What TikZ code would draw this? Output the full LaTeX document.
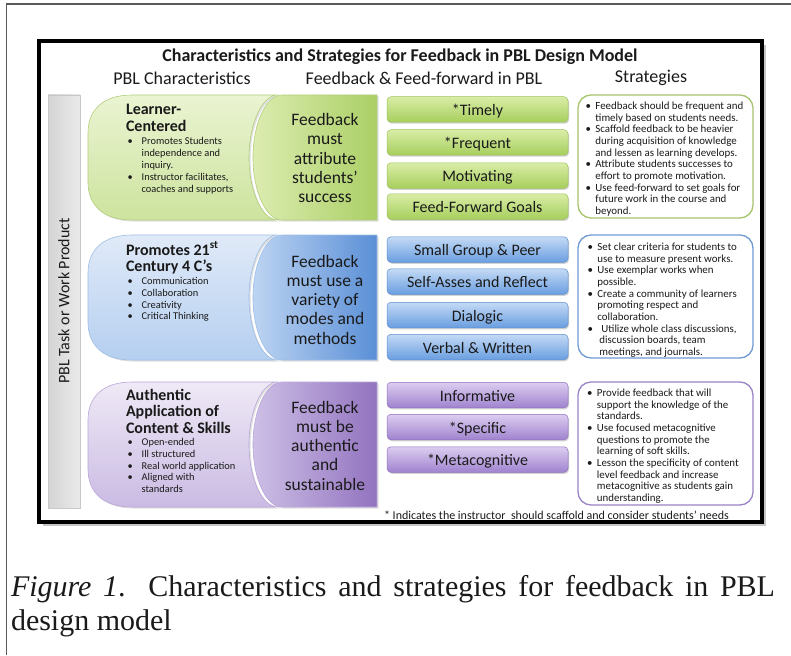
\documentclass[tikz,border=0pt]{standalone}
\usepackage{fontspec}
\setmainfont{Carlito}
\newfontfamily\capfont{Liberation Serif}
\usetikzlibrary{shadows}
\newcommand{\fsz}[2]{\fontsize{#1}{#2}\selectfont}
% green row
\definecolor{gLa}{HTML}{EAF4D2}\definecolor{gLb}{HTML}{CDE39E}\definecolor{gE}{HTML}{B2CE7C}
\definecolor{gCa}{HTML}{DCECB0}\definecolor{gCb}{HTML}{ABCF66}
\definecolor{gBa}{HTML}{DAEDA8}\definecolor{gBb}{HTML}{A6CE5C}\definecolor{gBE}{HTML}{9CC255}
\definecolor{gS}{HTML}{A6C46C}
% blue row
\definecolor{bLa}{HTML}{E0EAF8}\definecolor{bLb}{HTML}{B5CFF0}\definecolor{bE}{HTML}{9DBDE6}
\definecolor{bCa}{HTML}{BDD4F2}\definecolor{bCb}{HTML}{5A8FD6}
\definecolor{bBa}{HTML}{C4DAF5}\definecolor{bBb}{HTML}{6A9EE0}\definecolor{bBE}{HTML}{5D8FD0}
\definecolor{bS}{HTML}{6F9AD3}
% purple row
\definecolor{pLa}{HTML}{EFE9F6}\definecolor{pLb}{HTML}{CABBE3}\definecolor{pE}{HTML}{B9A6D8}
\definecolor{pCa}{HTML}{CDBFE6}\definecolor{pCb}{HTML}{9273BF}
\definecolor{pBa}{HTML}{DCCDF0}\definecolor{pBb}{HTML}{A083CF}\definecolor{pBE}{HTML}{8F70C0}
\definecolor{pS}{HTML}{9A83C6}
\definecolor{txtc}{HTML}{1A1A1A}
% #1 top, #2 middle, #3 bottom, #4 left shape style, #5 round shape style
\newcommand{\pblshapes}[5]{%
  \path[#4] (278,#1) -- (132,#1) .. controls (104,#1) and (88,#1+14) .. (88,#1+38)
    -- (88,#3-38) .. controls (88,#3-14) and (104,#3) .. (132,#3) -- (278,#3)
    .. controls (262,#3) and (249,#2+34) .. (249,#2)
    .. controls (249,#2-34) and (262,#1) .. (278,#1) -- cycle;
  \path[#5] (282,#1) -- (377,#1) -- (377,#3) -- (282,#3)
    .. controls (266,#3) and (253,#2+34) .. (253,#2)
    .. controls (253,#2-34) and (266,#1) .. (282,#1) -- cycle;
}
\begin{document}
\begin{tikzpicture}[x=1pt,y=-1pt,
  txt/.style={inner sep=0pt, outer sep=0pt, text=txtc},
  softshadow/.style={drop shadow={opacity=.25, shadow xshift=1.5pt, shadow yshift=-1.5pt}},
  lsh/.style n args={3}{top color=#1, bottom color=#2, draw=#3, line width=.6pt, softshadow},
  csh/.style n args={3}{left color=#1, right color=#2, draw=#3, line width=.6pt, softshadow},
  fbox/.style n args={3}{txt, top color=#1, bottom color=#2, draw=#3, rounded corners=4pt,
    minimum width=181pt, minimum height=25.5pt, line width=.5pt,
    text height=12.5pt, text depth=0pt, font=\fsz{16}{18},
    drop shadow={opacity=.35, shadow xshift=1pt, shadow yshift=-1.5pt}},
  sbox/.style={draw=#1, fill=white, line width=1.3pt, rounded corners=13pt,
    minimum width=175pt, minimum height=123pt, inner sep=0pt},
  stxt/.style={txt, anchor=base west, font=\fsz{10.9}{11.67}},
  lhead/.style={txt, anchor=base west, font=\fsz{16}{16.8}\bfseries},
  lbul/.style={txt, anchor=base west, font=\fsz{10.4}{11.8}},
  ctxt/.style={txt, anchor=base, font=\fsz{17.5}{19.3}},
  hdr/.style={txt, font=\fsz{18}{20}}
]
\useasboundingbox (0,0) rectangle (791,655);
\fill[white] (0,0) rectangle (791,655);
% outer frame lines
\draw[black!65, line width=1.3pt] (6.5,655) -- (6.5,4) -- (791,4);
% main frame
\draw[line width=4pt, fill=white,
  drop shadow={shadow xshift=4pt, shadow yshift=-4pt, opacity=.45}] (39,41) rectangle (762,522);
% title and headers
\node[txt, font=\fsz{18}{20}\bfseries] (title) at (400,57) {Characteristics and Strategies for Feedback in PBL Design Model};
\node[hdr] (h1) at (182,78) {PBL Characteristics};
\node[hdr] (h2) at (424,78) {Feedback \& Feed-forward in PBL};
\node[hdr] (h3) at (651,78) {Strategies};
% vertical bar
\path[left color=black!17, right color=black!8, draw=black!22, line width=.5pt] (48,95) rectangle (80,508);
\node[txt, rotate=90, font=\fsz{16}{18}] (vt) at (64,301) {PBL Task or Work Product};

% ---------- row 1 (green)
\pblshapes{95}{157.5}{220}{lsh={gLa}{gLb}{gE}}{csh={gCa}{gCb}{gE}}
\node[lhead] (l1) at (126,115) {\begin{tabular}[t]{@{}l@{}}Learner-\\Centered\end{tabular}};
\node[lbul] (lb1) at (127.5,144.5) {\begin{tabular}[t]{@{}l@{\hspace{9pt}}l@{}}•&Promotes Students\\&independence and\\&inquiry.\\[1pt]•&Instructor facilitates,\\&coaches and supports\end{tabular}};
\node[ctxt] (c1) at (325,125.5) {\begin{tabular}[t]{@{}c@{}}Feedback\\must\\attribute\\students’\\success\end{tabular}};
\node[fbox={gBa}{gBb}{gBE}] (g1) at (477.5,109.5) {*Timely};
\node[fbox={gBa}{gBb}{gBE}] (g2) at (477.5,142.5) {*Frequent};
\node[fbox={gBa}{gBb}{gBE}] (g3) at (477.5,175.5) {Motivating};
\node[fbox={gBa}{gBb}{gBE}] (g4) at (477.5,206.5) {Feed-Forward Goals};
\node[sbox=gS] (s1) at (665.5,156.5) {};
\node[stxt] (st1) at (585.5,109.5) {\begin{tabular}[t]{@{}l@{\hspace{4.5pt}}l@{}}
•&Feedback should be frequent and\\&timely based on students needs.\\
•&Scaffold feedback to be heavier\\&during acquisition of knowledge\\&and lessen as learning develops.\\
•&Attribute students successes to\\&effort to promote motivation.\\
•&Use feed-forward to set goals for\\&future work in the course and\\&beyond.\end{tabular}};

% ---------- row 2 (blue)
\pblshapes{235}{297.5}{360}{lsh={bLa}{bLb}{bE}}{csh={bCa}{bCb}{bE}}
\node[lhead] (l2) at (126,255) {\begin{tabular}[t]{@{}l@{}}Promotes 21\textsuperscript{st}\\Century 4 C’s\end{tabular}};
\node[lbul] (lb2) at (127.5,284.5) {\begin{tabular}[t]{@{}l@{\hspace{9pt}}l@{}}•&Communication\\•&Collaboration\\•&Creativity\\•&Critical Thinking\end{tabular}};
\node[ctxt] (c2) at (325,267) {\begin{tabular}[t]{@{}c@{}}Feedback\\must use a\\variety of\\modes and\\methods\end{tabular}};
\node[fbox={bBa}{bBb}{bBE}] (b1) at (477.5,249.5) {Small Group \& Peer};
\node[fbox={bBa}{bBb}{bBE}] (b2) at (477.5,281.5) {Self-Asses and Reflect};
\node[fbox={bBa}{bBb}{bBE}] (b3) at (477.5,315) {Dialogic};
\node[fbox={bBa}{bBb}{bBE}] (b4) at (477.5,347) {Verbal \& Written};
\node[sbox=bS] (s2) at (665.5,296.5) {};
\node[stxt] (st2) at (587.5,250.5) {\begin{tabular}[t]{@{}l@{\hspace{4.5pt}}l@{}}
•&Set clear criteria for students to\\&use to measure present works.\\
•&Use exemplar works when\\&possible.\\
•&Create a community of learners\\&promoting respect and\\&collaboration.\\
•&\hspace{4pt}Utilize whole class discussions,\\&\hspace{2pt}discussion boards, team\\&\hspace{2pt}meetings, and journals.\end{tabular}};

% ---------- row 3 (purple)
\pblshapes{382}{444.5}{507}{lsh={pLa}{pLb}{pE}}{csh={pCa}{pCb}{pE}}
\node[lhead] (l3) at (126,400) {\begin{tabular}[t]{@{}l@{}}Authentic\\Application of\\Content \& Skills\end{tabular}};
\node[lbul] (lb3) at (127.5,445.5) {\begin{tabular}[t]{@{}l@{\hspace{9pt}}l@{}}•&Open-ended\\•&Ill structured\\•&Real world application\\•&Aligned with\\&standards\end{tabular}};
\node[ctxt] (c3) at (325,413) {\begin{tabular}[t]{@{}c@{}}Feedback\\must be\\authentic\\and\\sustainable\end{tabular}};
\node[fbox={pBa}{pBb}{pBE}] (p1) at (477.5,395) {Informative};
\node[fbox={pBa}{pBb}{pBE}] (p2) at (477.5,427) {*Specific};
\node[fbox={pBa}{pBb}{pBE}] (p3) at (477.5,459.5) {*Metacognitive};
\node[sbox=pS] (s3) at (665.5,443.5) {};
\node[stxt] (st3) at (587,396.5) {\begin{tabular}[t]{@{}l@{\hspace{4.5pt}}l@{}}
•&Provide feedback that will\\&support the knowledge of the\\&standards.\\
•&Use focused metacognitive\\&questions to promote the\\&learning of soft skills.\\
•&Lesson the specificity of content\\&level feedback and increase\\&metacognitive as students gain\\&understanding.\end{tabular}};

% footnote
\node[txt, font=\fsz{12}{13}] (foot) at (556.5,515) {* Indicates the instructor\ \ should scaffold and consider students’ needs};

% caption
\node[txt, anchor=base west, text width=764pt, align=justify, font=\capfont\fsz{30}{34}] (cap) at (11,596)
  {\textit{Figure 1}. Characteristics and strategies for feedback in PBL\linebreak design model};
\end{tikzpicture}
\end{document}
